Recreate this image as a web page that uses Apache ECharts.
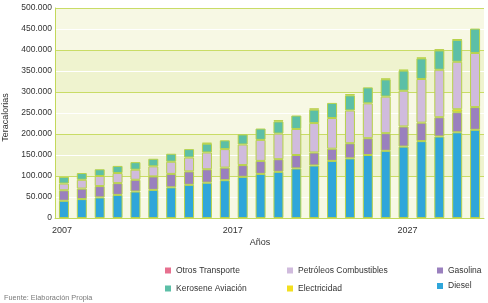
<!DOCTYPE html>
<html><head><meta charset="utf-8">
<script src="https://cdn.jsdelivr.net/npm/echarts@6/dist/echarts.min.js"></script>
<style>html,body{margin:0;padding:0;background:#fff}#c{width:488px;height:303px}</style>
</head><body><div id="c"></div>
<script>
const years = ['2007','2008','2009','2010','2011','2012','2013','2014','2015','2016','2017','2018','2019','2020','2021','2022','2023','2024','2025','2026','2027','2028','2029','2030'];
const xTickLabels = ['2007','2017','2027'];
const yTicks = [0,50000,100000,150000,200000,250000,300000,350000,400000,450000,500000];
const diesel       = [41000,45000,49000,55000,63000,67000,73000,79000,84000,90000,98000,105000,110000,118000,125000,136000,142000,150000,160000,170000,183000,194000,204000,210000];
const gasolina     = [25000,25000,27000,28000,28000,32000,32000,32000,32000,30000,28000,31000,30000,32000,31000,29000,36000,40000,42000,48000,44000,46000,48000,54000];
const electricidad = [0,0,0,0,0,0,0,0,0,0,0,0,0,0,0,0,0,0,0,0,0,0,7000,0];
const petroleos    = [16000,21000,24000,24000,24000,24000,29000,33000,40000,44000,49000,50000,61000,62000,70000,73000,78000,83000,87000,85000,104000,113000,113000,129000];
const kerosene     = [16000,16000,16000,17000,18000,18000,19000,20000,21000,21000,24000,27000,29000,32000,32000,36000,36000,38000,41000,48000,49000,46000,52000,58000];
const otros        = [0,0,0,0,0,0,0,0,2000,0,0,0,3000,0,3000,0,3000,0,2000,2000,2000,3000,2000,0];

const seriesDefs = [
  {name:'Diesel', data:diesel, color:'#2fa6da'},
  {name:'Gasolina', data:gasolina, color:'#9a80be'},
  {name:'Electricidad', data:electricidad, color:'#f3df1f'},
  {name:'Petróleos Combustibles', data:petroleos, color:'#d0bbdd'},
  {name:'Kerosene Aviación', data:kerosene, color:'#5cbfa7'},
  {name:'Otros Transporte', data:otros, color:'#e7708f'}
];
const FONT = '"Liberation Sans", Arial, Helvetica, sans-serif';
const fmt = v => String(v).replace(/\B(?=(\d{3})+(?!\d))/g, '.');

const chart = echarts.init(document.getElementById('c'), null, {renderer:'canvas'});
const legendBase = {
  orient:'vertical', icon:'rect', itemWidth:6, itemHeight:6, padding:0,
  itemStyle:{borderWidth:0},
  textStyle:{fontFamily:FONT, fontSize:8.5, color:'#333', lineHeight:11},
  selectedMode:false
};
chart.setOption({
  animation:false,
  backgroundColor:'#ffffff',
  grid:{left:55, right:4, top:8, bottom:85, containLabel:false},
  legend:[
    Object.assign({}, legendBase, {left:165, top:265, itemGap:7, data:['Otros Transporte','Kerosene Aviación']}),
    Object.assign({}, legendBase, {left:287, top:265, itemGap:7, data:['Petróleos Combustibles','Electricidad']}),
    Object.assign({}, legendBase, {left:437, top:265, itemGap:4.5, data:['Gasolina','Diesel']})
  ],
  xAxis:{
    type:'category', data:years,
    axisLine:{lineStyle:{color:'#c3d85a', width:1}},
    axisTick:{show:false},
    axisLabel:{
      interval:(i, v) => xTickLabels.includes(v),
      margin:8,
      fontFamily:FONT, fontSize:9, color:'#333',
      formatter:(v) => { const i = xTickLabels.indexOf(v); return i < 0 ? '' : '{l' + i + '|' + v + '}'; },
      rich:{
        l0:{fontFamily:FONT, fontSize:9, color:'#333', padding:[0,4,0,0]},
        l1:{fontFamily:FONT, fontSize:9, color:'#333', padding:[0,20,0,0]},
        l2:{fontFamily:FONT, fontSize:9, color:'#333', padding:[0,28,0,0]}
      }
    },
    splitLine:{show:false}
  },
  yAxis:{
    type:'value', min:yTicks[0], max:yTicks[yTicks.length-1], interval:yTicks[1]-yTicks[0],
    axisLine:{show:true, lineStyle:{color:'#c3d85a', width:1}},
    axisTick:{show:false},
    axisLabel:{margin:3, fontFamily:FONT, fontSize:8.5, color:'#333', formatter:fmt},
    splitLine:{show:true, lineStyle:{color:['#c9dc66','#ffffff'], width:1}},
    splitArea:{show:true, areaStyle:{color:['#f7f8e4','#f7f8e4','#eff3cf','#eff3cf']}}
  },
  series: seriesDefs.map(s => ({
    name:s.name, type:'bar', stack:'total', barWidth:10,
    data:s.data.map(v => v === 0 ? null : v),
    itemStyle:{color:s.color, borderColor:'#b7d24a', borderWidth:1},
    emphasis:{disabled:true}
  })),
  graphic:[
    {type:'text', x:6, y:117.5, rotation:Math.PI/2,
     style:{text:'Teracalorias', fontFamily:FONT, fontSize:9, fill:'#333', align:'center', verticalAlign:'middle'}},
    {type:'text', x:260, y:243,
     style:{text:'Años', fontFamily:FONT, fontSize:9, fill:'#333', align:'center', verticalAlign:'middle'}},
    {type:'text', x:4, y:297.5,
     style:{text:'Fuente: Elaboración Propia', fontFamily:FONT, fontSize:7.3, fill:'#7a7a7a', align:'left', verticalAlign:'middle'}}
  ]
});
</script>
</body></html>
